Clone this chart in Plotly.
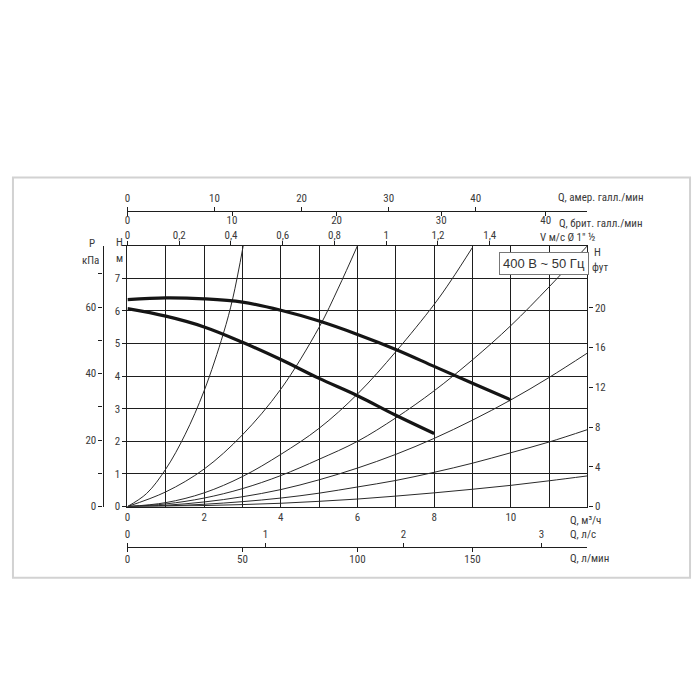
import plotly.graph_objects as go

# ---------------- data ----------------
# pump curves (Q m3/h, H m)
pump_hi_q = [0, 1, 2, 3, 4, 5, 6, 7, 8, 9, 10]
pump_hi_h = [6.35, 6.40, 6.37, 6.27, 6.02, 5.69, 5.28, 4.82, 4.30, 3.78, 3.27]
pump_lo_q = [0, 1, 2, 3, 4, 5, 6, 7, 8]
pump_lo_h = [6.07, 5.84, 5.51, 5.04, 4.51, 3.93, 3.40, 2.80, 2.24]

# system (pipe) curves
sys1_q = [0, 0.5, 1.0, 1.5, 2.0, 2.5, 2.75, 3.02]
sys1_h = [0, 0.40, 1.15, 2.2, 3.55, 5.3, 6.4, 8.0]
sys2_q = [0, 1, 2, 3, 4, 5, 5.5, 6.0]
sys2_h = [0, 0.45, 1.15, 2.2, 3.6, 5.5, 6.7, 8.0]
sys3_q = [0, 1, 2, 3, 4, 5, 6, 7, 8, 8.45, 9.0]
sys3_h = [0, 0.12, 0.42, 0.92, 1.6, 2.4, 3.45, 4.75, 6.2, 6.95, 7.95]
sys4_q = [0, 1, 2, 3, 4, 5, 6, 7, 8, 9, 10, 11, 12]
sys4_h = [0, 0.08, 0.26, 0.55, 0.95, 1.45, 2.0, 2.72, 3.55, 4.5, 5.55, 6.74, 8.0]
sys5_q = [0, 1, 2, 3, 4, 5, 6, 7, 8, 9, 10, 11, 12]
sys5_h = [0, 0.04, 0.14, 0.3, 0.52, 0.82, 1.18, 1.6, 2.09, 2.65, 3.27, 3.96, 4.71]
sys6_q = [0, 1, 2, 3, 4, 5, 6, 7, 8, 9, 10, 11, 12]
sys6_h = [0, 0.02, 0.07, 0.15, 0.26, 0.41, 0.6, 0.8, 1.05, 1.33, 1.65, 1.98, 2.36]
sys7_q = [0, 1, 2, 3, 4, 5, 6, 7, 8, 9, 10, 11, 12]
sys7_h = [0, 0.01, 0.03, 0.06, 0.1, 0.16, 0.23, 0.32, 0.42, 0.53, 0.65, 0.79, 0.94]

# axis ticks
q_m3h_ticks = list(range(0, 13))
q_m3h_labels = ["0", "", "2", "", "4", "", "6", "", "8", "", "10", "", ""]
h_m_ticks = list(range(0, 9))
h_m_labels = ["0", "1", "2", "3", "4", "5", "6", "7", ""]
h_ft_ticks = [0, 4, 8, 12, 16, 20]
p_kpa_ticks = [0, 10, 20, 30, 40, 50, 60, 70]
p_kpa_labels = ["0", "", "20", "", "40", "", "60", ""]
v_ticks = [0, 0.2, 0.4, 0.6, 0.8, 1.0, 1.2, 1.4]
v_labels = ["0", "0,2", "0,4", "0,6", "0,8", "1", "1,2", "1,4"]
us_gpm_ticks = [0, 10, 20, 30, 40]
uk_gpm_ticks = [0, 10, 20, 30, 40]
lps_ticks = [0, 1, 2, 3]
lpm_ticks = [0, 50, 100, 150]

# unit conversions
Q_MAX = 12.0
H_MAX = 8.0
FT_PER_M = 1 / 0.3048
KPA_PER_M = 9.80665
V_PER_Q = 1 / 6.75
US_GPM_PER_Q = 4.40287
UK_GPM_PER_Q = 3.66614
LPS_PER_Q = 1 / 3.6
LPM_PER_Q = 1000 / 60

W = 700.0
SY = 0.987  # observed vertical rendering scale
def px(x):
    return x / W
def py(y):
    return 1 - y / (W * SY)

FONT = "Liberation Sans Narrow, Roboto Condensed, Liberation Sans, Arial, sans-serif"
TXT = "#3a3a3a"
LINE = "#1e1e1e"
tickfont = dict(family=FONT, size=11, color=TXT)

fig = go.Figure()

sys_curves = [(sys1_q, sys1_h), (sys2_q, sys2_h), (sys3_q, sys3_h), (sys4_q, sys4_h),
              (sys5_q, sys5_h), (sys6_q, sys6_h), (sys7_q, sys7_h)]
for q, h in sys_curves:
    fig.add_trace(go.Scatter(x=q, y=h, mode="lines", line=dict(color="#2a2a2a", width=1, shape="spline"),
                             hoverinfo="skip", showlegend=False))

for q, h in [(pump_hi_q, pump_hi_h), (pump_lo_q, pump_lo_h)]:
    fig.add_trace(go.Scatter(x=q, y=h, mode="lines", line=dict(color="#151515", width=3.2, shape="spline"),
                             hoverinfo="skip", showlegend=False))

# dummy traces so auxiliary axes are drawn
for xa, ya in [("x2", "y"), ("x3", "y"), ("x4", "y"), ("x5", "y"), ("x6", "y"), ("x", "y2"), ("x", "y3")]:
    fig.add_trace(go.Scatter(x=[None], y=[None], xaxis=xa, yaxis=ya, mode="markers",
                             hoverinfo="skip", showlegend=False))

xdom = [px(125), px(587)]
ydom = [py(505), py(245)]

def tick_style(standoff=0, ticklen=4):
    return dict(ticks="outside", ticklen=ticklen, tickwidth=1.2, tickcolor=LINE, tickfont=tickfont,
                showgrid=False, zeroline=False, fixedrange=True, ticklabelstandoff=standoff)

fig.update_layout(
    width=700, height=700,
    margin=dict(l=0, r=0, t=0, b=0),
    paper_bgcolor="white", plot_bgcolor="white",
    showlegend=False,
    xaxis=dict(domain=xdom, range=[0, Q_MAX], tickmode="array", tickvals=q_m3h_ticks,
               ticktext=q_m3h_labels, showgrid=True, gridcolor=LINE, gridwidth=1.2,
               showline=True, mirror=True, linecolor=LINE, linewidth=1.4, ticks="",
               tickfont=tickfont, zeroline=False, fixedrange=True),
    yaxis=dict(domain=ydom, range=[0, H_MAX], tickmode="array", tickvals=h_m_ticks,
               ticktext=h_m_labels, showgrid=True, gridcolor=LINE, gridwidth=1.2,
               showline=True, mirror=True, linecolor=LINE, linewidth=1.4,
               ticks="outside", ticklen=4, tickcolor=LINE, tickfont=tickfont,
               zeroline=False, fixedrange=True),
    yaxis2=dict(overlaying="y", anchor="x", side="right", range=[0, H_MAX * FT_PER_M],
                tickmode="array", tickvals=h_ft_ticks, showline=True, linecolor=LINE, linewidth=1.4,
                **tick_style()),
    yaxis3=dict(overlaying="y", anchor="free", position=px(100), side="left",
                range=[0, H_MAX * KPA_PER_M], tickmode="array", tickvals=p_kpa_ticks,
                ticktext=p_kpa_labels, showline=True, linecolor=LINE, linewidth=1.2,
                **tick_style()),
    xaxis2=dict(overlaying="x", anchor="y", side="top", range=[0, Q_MAX * V_PER_Q],
                tickmode="array", tickvals=v_ticks, ticktext=v_labels, showline=False,
                **tick_style(-3)),
    xaxis3=dict(overlaying="x", anchor="free", position=py(210), side="top",
                range=[0, Q_MAX * US_GPM_PER_Q], tickmode="array", tickvals=us_gpm_ticks,
                showline=True, linecolor=LINE, linewidth=1.2, **tick_style(0)),
    xaxis4=dict(overlaying="x", anchor="free", position=py(210), side="bottom",
                range=[0, Q_MAX * UK_GPM_PER_Q], tickmode="array", tickvals=uk_gpm_ticks,
                showline=True, linecolor=LINE, linewidth=1.2, **tick_style(-5)),
    xaxis5=dict(overlaying="x", anchor="free", position=py(545), side="top",
                range=[0, Q_MAX * LPS_PER_Q], tickmode="array", tickvals=lps_ticks,
                showline=True, linecolor=LINE, linewidth=1.2, **tick_style(0)),
    xaxis6=dict(overlaying="x", anchor="free", position=py(545), side="bottom",
                range=[0, Q_MAX * LPM_PER_Q], tickmode="array", tickvals=lpm_ticks,
                showline=True, linecolor=LINE, linewidth=1.2, **tick_style(-2)),
)

# outer frame
fig.add_shape(type="rect", xref="paper", yref="paper", x0=px(10), x1=px(690), y0=py(576), y1=py(177),
              line=dict(color="#d2d2d2", width=2), fillcolor="rgba(0,0,0,0)", layer="below")

labels = [
    ("Q, амер. галл./мин", 555, 197, "left"),
    ("Q, брит. галл./мин", 556, 223, "left"),
    ("V м/с Ø 1\" ½", 537, 237, "left"),
    ("H", 592, 252, "left"),
    ("фут", 590, 267, "left"),
    ("P", 89, 243, "center"),
    ("кПа", 88, 260, "center"),
    ("H", 117, 242, "center"),
    ("м", 117, 258, "center"),
    ("Q, м³/ч", 567, 519, "left"),
    ("Q, л/с", 567, 533, "left"),
    ("Q, л/мин", 567, 557, "left"),
]
for text, x, y, anc in labels:
    fig.add_annotation(text=text, x=px(x), y=py(y), xref="paper", yref="paper", xanchor=anc,
                       yanchor="middle", showarrow=False, font=dict(family=FONT, size=11, color=TXT))

fig.add_annotation(text="400 В ~ 50 Гц", x=px(543), y=py(263), xref="paper", yref="paper",
                   xanchor="center", yanchor="middle", showarrow=False,
                   font=dict(family="Liberation Sans, Arial, sans-serif", size=13, color="#333"),
                   bgcolor="white", bordercolor="#777", borderwidth=1, borderpad=3)

fig.write_html("out.html", config={"displayModeBar": False},
               post_script="document.body.style.margin='0';document.body.style.overflow='hidden';")
